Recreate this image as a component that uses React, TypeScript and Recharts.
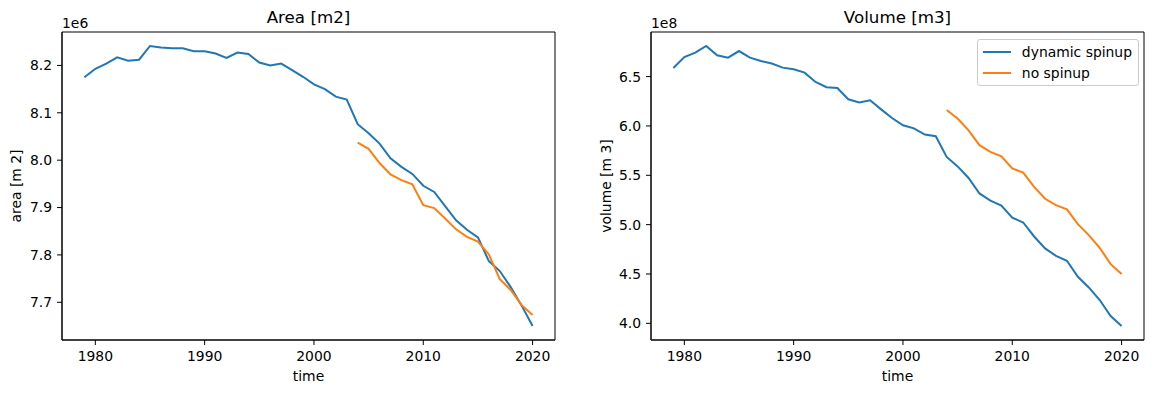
import React from 'react';
import { LineChart, Line, XAxis, YAxis, ReferenceArea, Legend } from 'recharts';

// ---- data ----
const years = [
  1979, 1980, 1981, 1982, 1983, 1984, 1985, 1986, 1987, 1988,
  1989, 1990, 1991, 1992, 1993, 1994, 1995, 1996, 1997, 1998,
  1999, 2000, 2001, 2002, 2003, 2004, 2005, 2006, 2007, 2008,
  2009, 2010, 2011, 2012, 2013, 2014, 2015, 2016, 2017, 2018,
  2019, 2020,
];
const noSpinupStartYear = 2004;

// area in units of 1e6 m2
const areaDynamic = [
  8.175, 8.193, 8.204, 8.217, 8.210, 8.212, 8.241, 8.238, 8.236, 8.236,
  8.230, 8.230, 8.225, 8.216, 8.227, 8.224, 8.206, 8.200, 8.204, 8.190,
  8.176, 8.160, 8.150, 8.134, 8.128, 8.076, 8.057, 8.035, 8.004, 7.986,
  7.971, 7.946, 7.933, 7.903, 7.873, 7.853, 7.837, 7.787, 7.766, 7.732,
  7.693, 7.650,
];
const areaNoSpinup = [
  8.037, 8.024, 7.994, 7.970, 7.958, 7.949, 7.905, 7.899, 7.877, 7.854,
  7.838, 7.828, 7.801, 7.749, 7.726, 7.694, 7.673,
];

// volume in units of 1e8 m3
const volumeDynamic = [
  6.587, 6.698, 6.743, 6.810, 6.716, 6.692, 6.759, 6.692, 6.658, 6.632,
  6.591, 6.574, 6.540, 6.445, 6.392, 6.385, 6.270, 6.237, 6.260, 6.168,
  6.080, 6.007, 5.976, 5.913, 5.896, 5.686, 5.590, 5.473, 5.316, 5.244,
  5.194, 5.071, 5.022, 4.880, 4.759, 4.684, 4.634, 4.472, 4.364, 4.236,
  4.074, 3.973,
];
const volumeNoSpinup = [
  6.162, 6.075, 5.956, 5.805, 5.737, 5.693, 5.569, 5.528, 5.383, 5.262,
  5.197, 5.155, 5.005, 4.894, 4.765, 4.600, 4.499,
];

const xTicks = [1980, 1990, 2000, 2010, 2020];
const areaTicks = [7.7, 7.8, 7.9, 8.0, 8.1, 8.2];
const volumeTicks = [4.0, 4.5, 5.0, 5.5, 6.0, 6.5];

const seriesNames = { dynamic: 'dynamic spinup', noSpinup: 'no spinup' };

// ---- style ----
const FONT = '"DejaVu Sans", sans-serif';
const BLUE = '#1f77b4';
const ORANGE = '#ff7f0e';
const W = 1156;
const H = 393;
const PLOT_TOP = 32;
const PLOT_BOTTOM = 340;
const TICK_FS = 13.9;

function padDomain(values: number[]): [number, number] {
  const lo = Math.min(...values);
  const hi = Math.max(...values);
  const m = (hi - lo) * 0.05;
  return [lo - m, hi + m];
}

function buildRows(dyn: number[], nos: number[]) {
  return years.map((y, i) => ({
    year: y,
    dynamic: dyn[i],
    noSpinup: y >= noSpinupStartYear ? nos[y - noSpinupStartYear] : undefined,
  }));
}

const xDomain = padDomain(years);

function LegendBox(props: any) {
  const payload = props.payload || [];
  return (
    <div
      style={{
        border: '1px solid #cccccc',
        borderRadius: 3,
        background: 'rgba(255,255,255,0.8)',
        padding: '4px 6px 4px 5px',
        fontFamily: FONT,
        fontSize: TICK_FS,
        color: '#000',
        lineHeight: '16px',
      }}
    >
      {payload.map((p: any, i: number) => (
        <div key={i} style={{ display: 'flex', alignItems: 'center', marginTop: i === 0 ? 0 : 5 }}>
          <svg width={28} height={10} style={{ marginRight: 11 }}>
            <line x1={0} y1={5} x2={28} y2={5} stroke={p.color} strokeWidth={2} />
          </svg>
          <span>{p.value}</span>
        </div>
      ))}
    </div>
  );
}

interface PanelProps {
  left: number;
  width: number;
  plotLeft: number;
  plotRight: number;
  dyn: number[];
  nos: number[];
  yTicks: number[];
  title: string;
  yLabel: string;
  offsetText: string;
  yLabelX: number;
  showLegend: boolean;
}

function Panel(p: PanelProps) {
  const rows = buildRows(p.dyn, p.nos);
  const yDomain = padDomain([...p.dyn, ...p.nos]);
  const plotCenter = (p.plotLeft + p.plotRight) / 2;
  const tickStyle = { fill: '#000', fontSize: TICK_FS, fontFamily: FONT };
  return (
    <div style={{ position: 'absolute', left: p.left, top: 0, width: p.width, height: H }}>
      <LineChart
        width={p.width}
        height={H}
        data={rows}
        margin={{ top: PLOT_TOP, right: p.width - p.plotRight, left: 0, bottom: 0 }}
      >
        <XAxis
          dataKey="year"
          type="number"
          domain={xDomain}
          allowDataOverflow
          ticks={xTicks}
          interval={0}
          height={H - PLOT_BOTTOM}
          stroke="#000"
          tick={tickStyle}
          tickSize={5}
          tickMargin={6}
          tickLine={{ stroke: '#000' }}
          axisLine={{ stroke: '#000' }}
        />
        <YAxis
          type="number"
          domain={yDomain}
          allowDataOverflow
          ticks={p.yTicks}
          interval={0}
          width={p.plotLeft}
          stroke="#000"
          tick={tickStyle}
          tickSize={5}
          tickMargin={5}
          tickFormatter={(v: number) => v.toFixed(1)}
          tickLine={{ stroke: '#000' }}
          axisLine={{ stroke: '#000' }}
        />
        <ReferenceArea
          x1={xDomain[0]}
          x2={xDomain[1]}
          y1={yDomain[0]}
          y2={yDomain[1]}
          fill="none"
          fillOpacity={0}
          stroke="#000"
          strokeWidth={1}
        />
        <Line
          dataKey="dynamic"
          name={seriesNames.dynamic}
          stroke={BLUE}
          strokeWidth={2}
          dot={false}
          activeDot={false}
          isAnimationActive={false}
        />
        <Line
          dataKey="noSpinup"
          name={seriesNames.noSpinup}
          stroke={ORANGE}
          strokeWidth={2}
          dot={false}
          activeDot={false}
          isAnimationActive={false}
        />
        {p.showLegend && (
          <Legend
            layout="horizontal"
            verticalAlign="middle"
            align="center"
            content={LegendBox}
            wrapperStyle={{ top: 39, right: p.width - (p.plotRight - 5), left: 'auto', width: 'auto' }}
          />
        )}
      </LineChart>
      <svg
        width={p.width}
        height={H}
        style={{ position: 'absolute', left: 0, top: 0, pointerEvents: 'none' }}
        fontFamily={FONT}
      >
        <text x={plotCenter} y={23} textAnchor="middle" fontSize={16.7} fill="#000">
          {p.title}
        </text>
        <text x={p.plotLeft} y={28} textAnchor="start" fontSize={TICK_FS} fill="#000">
          {p.offsetText}
        </text>
        <text
          x={p.yLabelX}
          y={(PLOT_TOP + PLOT_BOTTOM) / 2}
          textAnchor="middle"
          dy="0.35em"
          fontSize={TICK_FS}
          fill="#000"
          transform={`rotate(-90 ${p.yLabelX} ${(PLOT_TOP + PLOT_BOTTOM) / 2})`}
        >
          {p.yLabel}
        </text>
        <text x={plotCenter} y={376} textAnchor="middle" dy="0.35em" fontSize={TICK_FS} fill="#000">
          time
        </text>
      </svg>
    </div>
  );
}

export default function App() {
  return (
    <div
      style={{
        position: 'absolute',
        left: 0,
        top: 0,
        width: W,
        height: H,
        background: '#fff',
        fontFamily: FONT,
        overflow: 'hidden',
      }}
    >
      <Panel
        left={0}
        width={578}
        plotLeft={62}
        plotRight={555}
        dyn={areaDynamic}
        nos={areaNoSpinup}
        yTicks={areaTicks}
        title="Area [m2]"
        yLabel="area [m 2]"
        offsetText="1e6"
        yLabelX={16}
        showLegend={false}
      />
      <Panel
        left={578}
        width={578}
        plotLeft={73}
        plotRight={566}
        dyn={volumeDynamic}
        nos={volumeNoSpinup}
        yTicks={volumeTicks}
        title="Volume [m3]"
        yLabel="volume [m 3]"
        offsetText="1e8"
        yLabelX={28}
        showLegend={true}
      />
    </div>
  );
}
